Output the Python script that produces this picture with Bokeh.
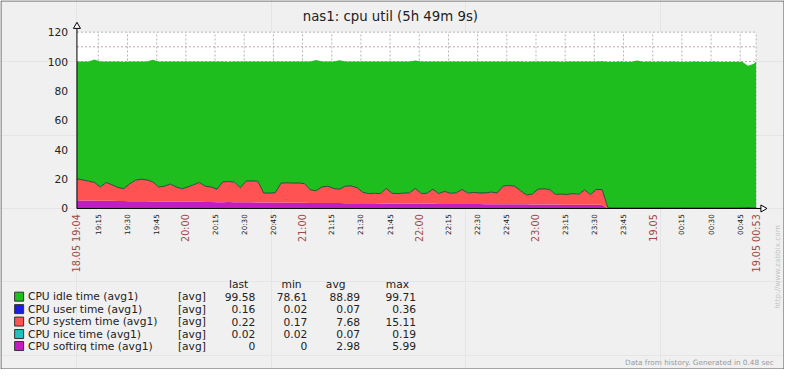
import math
from bokeh.plotting import figure
from bokeh.models import Range1d, ColumnDataSource
from bokeh.transform import stack
from bokeh.core.properties import value, field
from bokeh.embed import file_html
from bokeh.resources import INLINE

# ---------------- data (minutes after 18.05 19:04, 3-minute samples) ----------------
minutes = list(range(0, 349, 3)) + [349.15]

softirq = [
    5.6, 5.5, 5.5, 5.4, 5.3, 5.3, 5.2, 5.1, 5.1, 5.0,
    5.0, 4.9, 4.9, 4.8, 4.8, 4.7, 4.7, 4.6, 4.6, 4.5,
    4.5, 4.5, 4.4, 4.4, 4.3, 4.3, 4.4, 4.3, 4.2, 4.2,
    4.2, 4.1, 4.1, 4.1, 4.0, 4.0, 4.0, 3.9, 3.9, 3.9,
    3.8, 3.8, 3.8, 3.7, 3.7, 3.7, 3.6, 3.6, 3.6, 3.5,
    3.5, 3.5, 3.4, 3.4, 3.4, 3.3, 3.3, 3.3, 3.3, 3.2,
    3.2, 3.2, 3.1, 3.1, 3.1, 3.1, 3.0, 3.0, 3.0, 3.0,
    2.9, 2.9, 2.9, 2.9, 2.8, 2.8, 2.8, 2.8, 2.7, 2.7,
    2.7, 2.7, 2.7, 2.6, 2.6, 2.6, 2.6, 2.6, 2.5, 2.5, 2.5,
    0, 0, 0, 0, 0, 0, 0, 0, 0, 0,
    0, 0, 0, 0, 0, 0, 0, 0, 0, 0,
    0, 0, 0, 0, 0, 0, 0]

system = [
    14.4, 13.8, 13.0, 12.2, 9.2, 12.2, 10.8, 9.1, 8.2, 11.5,
    14.0, 14.9, 14.4, 13.2, 9.7, 10.3, 11.8, 9.9, 8.6, 10.0,
    11.5, 13.1, 10.6, 10.1, 8.7, 13.7, 13.8, 13.5, 9.8, 14.3,
    14.4, 14.3, 6.3, 6.2, 6.6, 13.2, 13.3, 13.2, 13.3, 12.9,
    8.7, 8.2, 10.7, 11.3, 9.8, 9.3, 11.4, 11.6, 10.4, 7.3,
    6.5, 6.7, 6.6, 10.1, 6.8, 6.7, 7.0, 7.2, 10.2, 6.8,
    7.0, 9.8, 6.9, 8.4, 7.1, 7.4, 9.8, 7.3, 7.8, 7.4,
    7.6, 8.1, 7.5, 12.1, 12.8, 12.2, 9.2, 6.4, 6.8, 10.3,
    10.5, 10.1, 6.8, 7.0, 6.8, 7.4, 6.9, 9.9, 6.8, 10.3, 10.1,
    0.21, 0.19, 0.20, 0.22, 0.18, 0.20, 0.21, 0.19, 0.20, 0.22,
    0.18, 0.19, 0.20, 0.21, 0.20, 0.18, 0.19, 0.22, 0.20, 0.21,
    0.19, 0.20, 0.18, 0.21, 0.20, 0.19, 0.22]

user = [
    0.06, 0.07, 0.05, 0.08, 0.06, 0.07, 0.09, 0.06, 0.05, 0.07,
    0.08, 0.06, 0.07, 0.05, 0.06, 0.08, 0.07, 0.06, 0.09, 0.07,
    0.05, 0.06, 0.07, 0.08, 0.06, 0.07, 0.05, 0.06, 0.08, 0.07,
    0.06, 0.09, 0.07, 0.05, 0.06, 0.07, 0.08, 0.06, 0.07, 0.05,
    0.06, 0.08, 0.07, 0.06, 0.05, 0.07, 0.09, 0.06, 0.07, 0.08,
    0.06, 0.05, 0.07, 0.06, 0.08, 0.07, 0.06, 0.05, 0.07, 0.09,
    0.06, 0.07, 0.08, 0.06, 0.05, 0.07, 0.06, 0.08, 0.07, 0.06,
    0.05, 0.07, 0.09, 0.06, 0.07, 0.08, 0.06, 0.05, 0.07, 0.06,
    0.08, 0.07, 0.06, 0.05, 0.07, 0.09, 0.06, 0.07, 0.08, 0.06,
    0.07, 0.05, 0.03, 0.04, 0.02, 0.03, 0.05, 0.04, 0.03, 0.02,
    0.04, 0.03, 0.05, 0.02, 0.03, 0.04, 0.03, 0.05, 0.04, 0.03,
    0.02, 0.04, 0.06, 0.05, 0.12, 0.36, 0.21, 0.16]

nice = [
    0.07, 0.06, 0.08, 0.07, 0.09, 0.06, 0.07, 0.08, 0.07, 0.06,
    0.07, 0.08, 0.06, 0.07, 0.09, 0.07, 0.06, 0.08, 0.07, 0.07,
    0.06, 0.08, 0.07, 0.06, 0.07, 0.09, 0.07, 0.08, 0.06, 0.07,
    0.07, 0.06, 0.08, 0.07, 0.07, 0.06, 0.09, 0.07, 0.08, 0.07,
    0.06, 0.07, 0.08, 0.07, 0.06, 0.07, 0.07, 0.09, 0.06, 0.08,
    0.07, 0.07, 0.06, 0.08, 0.07, 0.06, 0.07, 0.09, 0.07, 0.08,
    0.07, 0.06, 0.07, 0.08, 0.07, 0.06, 0.09, 0.07, 0.07, 0.08,
    0.06, 0.07, 0.08, 0.07, 0.06, 0.07, 0.09, 0.07, 0.08, 0.07,
    0.06, 0.07, 0.08, 0.07, 0.07, 0.06, 0.08, 0.07, 0.09, 0.07,
    0.19, 0.08, 0.07, 0.06, 0.08, 0.07, 0.05, 0.07, 0.06, 0.08,
    0.07, 0.06, 0.07, 0.05, 0.08, 0.06, 0.07, 0.06, 0.05, 0.07,
    0.06, 0.07, 0.05, 0.06, 0.04, 0.03, 0.03, 0.02]

idle = [
    79.9, 80.6, 81.4, 83.6, 85.3, 82.4, 83.8, 85.7, 86.5, 83.4,
    80.8, 80.0, 80.6, 83.1, 85.4, 84.8, 83.4, 85.3, 86.7, 85.3,
    83.9, 82.2, 84.9, 85.4, 86.8, 81.9, 81.6, 82.1, 85.8, 81.4,
    81.2, 81.5, 89.5, 89.6, 89.2, 82.7, 82.5, 82.8, 82.7, 83.1,
    87.4, 88.9, 85.4, 84.9, 86.4, 87.8, 84.9, 84.6, 85.9, 89.0,
    89.8, 89.7, 89.9, 86.4, 89.6, 89.9, 89.5, 89.3, 87.0, 89.9,
    89.6, 86.8, 89.8, 88.4, 89.7, 89.4, 87.1, 89.5, 89.0, 89.5,
    89.4, 88.9, 89.4, 84.8, 84.3, 84.9, 87.8, 90.6, 90.3, 86.8,
    86.7, 87.0, 90.4, 90.2, 90.5, 89.8, 90.4, 87.3, 90.5, 87.1, 87.3,
    99.5, 99.6, 99.7, 99.6, 99.5, 100.4, 99.6, 99.7, 99.5, 99.6,
    99.6, 99.7, 99.5, 99.6, 99.6, 99.7, 99.5, 99.6, 99.7, 99.6,
    99.5, 99.6, 99.6, 99.5, 96.5, 98.0, 99.58]

# x-axis tick positions (minutes after 19:04) and labels
x_start, x_end = 0, 349.15
tick_minutes = [0, 11, 26, 41, 56, 71, 86, 101, 116, 131, 146, 161, 176, 191,
                206, 221, 236, 251, 266, 281, 296, 311, 326, 341, 349.15]
tick_labels = ["18.05 19:04", "19:15", "19:30", "19:45", "20:00", "20:15", "20:30",
               "20:45", "21:00", "21:15", "21:30", "21:45", "22:00", "22:15", "22:30",
               "22:45", "23:00", "23:15", "23:30", "23:45", "19.05", "00:15", "00:30",
               "00:45", "19.05 00:53"]
tick_main = [1, 0, 0, 0, 1, 0, 0, 0, 1, 0, 0, 0, 1, 0, 0, 0, 1, 0, 0, 0, 1, 0, 0, 0, 1]

y_ticks = [0, 20, 40, 60, 80, 100, 120]
y_top = 120

legend_names = ["CPU idle time (avg1)", "CPU user time (avg1)", "CPU system time (avg1)",
                "CPU nice time (avg1)", "CPU softirq time (avg1)"]
legend_colors = ["#1EBE1E", "#1C1CE0", "#FF5252", "#1EC0C0", "#C01EC0"]
legend_last = ["99.58", "0.16", "0.22", "0.02", "0"]
legend_min = ["78.61", "0.02", "0.17", "0.02", "0"]
legend_avg = ["88.89", "0.07", "7.68", "0.07", "2.98"]
legend_max = ["99.71", "0.36", "15.11", "0.19", "5.99"]

# ---------------- layout ----------------
W, H = 784, 369
RW, RH = 800, 385                        # reference picture size
SX, SY = W / RW, H / RH


def cx(X):  # reference px -> canvas px
    return X * SX


def cy(Y):
    return Y * SY


PX0, PX1, PY0, PY1 = 78, 771, 33, 217    # plot area in reference px
KX = (cx(PX1) - cx(PX0)) / (x_end - x_start)   # canvas px per minute
KY = (cy(PY1) - cy(PY0)) / y_top               # canvas px per percent
FONT = value("DejaVu Sans")
TXT = "#222222"


def dx(X):  # reference px -> data x
    return x_start + (cx(X) - cx(PX0)) / KX


def dy(Y):  # reference px -> data y
    return (cy(PY1) - cy(Y)) / KY


p = figure(width=W, height=H, output_backend="svg", toolbar_location=None,
           x_axis_location=None, y_axis_location=None, title=None,
           x_range=Range1d(dx(0), dx(RW)), y_range=Range1d(dy(RH), dy(0)),
           min_border=0, background_fill_color="#f0f0f0", border_fill_color="#f0f0f0")
p.outline_line_color = None

# outer border and white plot area
p.quad(left=[dx(0.5)], right=[dx(RW - 0.5)], bottom=[dy(RH - 0.5)], top=[dy(0.5)],
       fill_color=None, line_color="#555555", line_width=1)
p.quad(left=[x_start], right=[x_end], bottom=[0], top=[y_top],
       fill_color="white", line_color=None)

# dashed grid
gx = tick_minutes[1:]
p.segment(x0=gx, y0=[0] * len(gx), x1=gx, y1=[y_top] * len(gx),
          line_color="#b4b4b4", line_dash="2 2", line_width=1)
gy = y_ticks[1:]
p.segment(x0=[x_start] * len(gy), y0=gy, x1=[x_end] * len(gy), y1=gy,
          line_color="#b4b4b4", line_dash="2 2", line_width=1)
p.segment(x0=[x_start], y0=[110], x1=[x_end], y1=[110],
          line_color="#c8a0a0", line_dash="2 2", line_width=1)

# stacked data
src = ColumnDataSource(dict(t=minutes, softirq=softirq, system=system, user=user,
                            nice=nice, idle=idle))
order = ["softirq", "system", "user", "nice", "idle"]
colors = {"softirq": "#C01EC0", "system": "#FF5252", "user": "#1C1CE0",
          "nice": "#1EC0C0", "idle": "#1EBE1E"}
p.varea_stack(stackers=order, x="t", color=[colors[k] for k in order], source=src)
p.line(x="t", y=stack("softirq", "system", "user", "nice"), source=src,
       line_color="#243a30", line_width=1, line_alpha=0.85)

# axis lines with open arrow heads
p.segment(x0=[x_start, x_start], y0=[0, 0], x1=[dx(778), x_start], y1=[0, dy(26)],
          line_color="black", line_width=1)
p.scatter(x=[dx(778)], y=[0], marker="triangle", size=7, angle=-math.pi / 2,
          fill_color="white", line_color="black", line_width=1)
p.scatter(x=[x_start], y=[dy(27)], marker="triangle", size=7,
          fill_color="white", line_color="black", line_width=1)

# y tick labels
p.text(x=[dx(69)] * len(y_ticks), y=y_ticks, text=[str(v) for v in y_ticks],
       text_align="right", text_baseline="middle", text_font=FONT,
       text_font_size="10.7px", text_color=TXT)

# x tick labels (rotated; main ones larger and red)
tick_src = ColumnDataSource(dict(
    x=tick_minutes, y=[dy(223)] * len(tick_minutes), text=tick_labels,
    color=["#a04848" if m else TXT for m in tick_main],
    size=["9.6px" if m else "7.2px" for m in tick_main]))
p.text(x="x", y="y", text="text", source=tick_src, angle=math.pi / 2,
       text_align="right", text_baseline="middle", text_font=FONT,
       text_font_size=field("size"), text_color=field("color"))


def put(X, Y, text, size="10.7px", align="left", color=TXT, angle=0.0):
    p.text(x=[dx(X)], y=[dy(Y)], text=[text], text_align=align,
           text_baseline="middle", text_font=FONT, text_font_size=size,
           text_color=color, angle=angle)


# title
put(400, 17, "nas1: cpu util  (5h 49m 9s)", size="13.3px", align="center")

# legend table
row_y = [309, 322, 335, 348, 360.5]
for txt, hx in zip(["last", "min", "avg", "max"], [243, 297, 342, 405]):
    put(hx, 296, txt, align="center")
p.scatter(x=[dx(19)] * len(legend_names), y=[dy(v) for v in row_y], marker="square",
          size=9, fill_color=legend_colors, line_color="#333333", line_width=1)
for i, name in enumerate(legend_names):
    yy = row_y[i]
    put(28, yy, name)
    put(181, yy, "[avg]")
    for vals, rx in zip([legend_last, legend_min, legend_avg, legend_max], [260, 313, 367, 424]):
        put(rx, yy, vals[i], align="right")

# footer & side text
put(789, 378, "Data from history. Generated in 0.48 sec", size="7.3px",
    align="right", color="#9a9a9a")
put(793, 278, "http://www.zabbix.com", size="7.3px", align="center",
    color="#c4c4c4", angle=math.pi / 2)

open("out.html", "w").write(file_html(p, INLINE))
